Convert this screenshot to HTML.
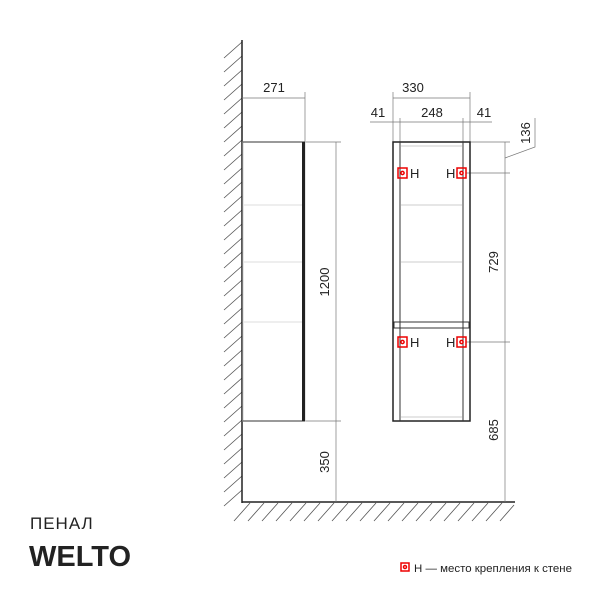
<!DOCTYPE html>
<html><head><meta charset="utf-8"><style>
html,body{margin:0;padding:0;background:#fff;width:600px;height:600px;overflow:hidden}
svg{display:block}
text{font-family:"Liberation Sans",sans-serif;fill:#222}
</style></head><body>
<svg width="600" height="600" viewBox="0 0 600 600">
<g stroke="#555" stroke-width="0.8" id="hatch"></g>
<g stroke="#555" stroke-width="0.8">
<line x1="242" y1="42" x2="224" y2="58"/><line x1="242" y1="56" x2="224" y2="72"/><line x1="242" y1="70" x2="224" y2="86"/><line x1="242" y1="84" x2="224" y2="100"/><line x1="242" y1="98" x2="224" y2="114"/><line x1="242" y1="112" x2="224" y2="128"/><line x1="242" y1="126" x2="224" y2="142"/><line x1="242" y1="140" x2="224" y2="156"/><line x1="242" y1="154" x2="224" y2="170"/><line x1="242" y1="168" x2="224" y2="184"/><line x1="242" y1="182" x2="224" y2="198"/><line x1="242" y1="196" x2="224" y2="212"/><line x1="242" y1="210" x2="224" y2="226"/><line x1="242" y1="224" x2="224" y2="240"/><line x1="242" y1="238" x2="224" y2="254"/><line x1="242" y1="252" x2="224" y2="268"/><line x1="242" y1="266" x2="224" y2="282"/><line x1="242" y1="280" x2="224" y2="296"/><line x1="242" y1="294" x2="224" y2="310"/><line x1="242" y1="308" x2="224" y2="324"/><line x1="242" y1="322" x2="224" y2="338"/><line x1="242" y1="336" x2="224" y2="352"/><line x1="242" y1="350" x2="224" y2="366"/><line x1="242" y1="364" x2="224" y2="380"/><line x1="242" y1="378" x2="224" y2="394"/><line x1="242" y1="392" x2="224" y2="408"/><line x1="242" y1="406" x2="224" y2="422"/><line x1="242" y1="420" x2="224" y2="436"/><line x1="242" y1="434" x2="224" y2="450"/><line x1="242" y1="448" x2="224" y2="464"/><line x1="242" y1="462" x2="224" y2="478"/><line x1="242" y1="476" x2="224" y2="492"/><line x1="242" y1="490" x2="224" y2="506"/>
<line x1="250" y1="503" x2="234" y2="521"/><line x1="264" y1="503" x2="248" y2="521"/><line x1="278" y1="503" x2="262" y2="521"/><line x1="292" y1="503" x2="276" y2="521"/><line x1="306" y1="503" x2="290" y2="521"/><line x1="320" y1="503" x2="304" y2="521"/><line x1="334" y1="503" x2="318" y2="521"/><line x1="348" y1="503" x2="332" y2="521"/><line x1="362" y1="503" x2="346" y2="521"/><line x1="376" y1="503" x2="360" y2="521"/><line x1="390" y1="503" x2="374" y2="521"/><line x1="404" y1="503" x2="388" y2="521"/><line x1="418" y1="503" x2="402" y2="521"/><line x1="432" y1="503" x2="416" y2="521"/><line x1="446" y1="503" x2="430" y2="521"/><line x1="460" y1="503" x2="444" y2="521"/><line x1="474" y1="503" x2="458" y2="521"/><line x1="488" y1="503" x2="472" y2="521"/><line x1="502" y1="503" x2="486" y2="521"/><line x1="514" y1="505" x2="500" y2="521"/>
</g>
<line x1="242" y1="40" x2="242" y2="503" stroke="#222" stroke-width="1.5"/>
<line x1="242" y1="502" x2="515" y2="502" stroke="#222" stroke-width="1.5"/>
<g stroke="#777" stroke-width="0.7" fill="none">
<line x1="242" y1="98" x2="305" y2="98"/>
<line x1="305" y1="92" x2="305" y2="142"/>
<line x1="305" y1="142" x2="341" y2="142"/>
<line x1="305" y1="421" x2="341" y2="421"/>
<line x1="336" y1="142" x2="336" y2="502"/>
<line x1="393" y1="98" x2="470" y2="98"/>
<line x1="393" y1="92" x2="393" y2="142"/>
<line x1="470" y1="92" x2="470" y2="142"/>
<line x1="370" y1="122" x2="492" y2="122"/>
<line x1="400" y1="118" x2="400" y2="173"/>
<line x1="463" y1="118" x2="463" y2="173"/>
<line x1="470" y1="142" x2="510" y2="142"/>
<line x1="466" y1="173" x2="510" y2="173"/>
<line x1="466" y1="342" x2="510" y2="342"/>
<line x1="505" y1="142" x2="505" y2="502"/>
<polyline points="505,158 535,147 535,118"/>
</g>
<rect x="243" y="142" width="62" height="279" fill="none" stroke="#ccc" stroke-width="1"/>
<line x1="243" y1="142" x2="305" y2="142" stroke="#333"/>
<line x1="243" y1="421" x2="305" y2="421" stroke="#333"/>
<line x1="303.5" y1="142" x2="303.5" y2="421" stroke="#222" stroke-width="3"/>
<g stroke="#ddd"><line x1="244" y1="205" x2="302" y2="205"/><line x1="244" y1="262" x2="302" y2="262"/><line x1="244" y1="322" x2="302" y2="322"/></g>
<rect x="393" y="142" width="77" height="279" fill="none" stroke="#222" stroke-width="1.5"/>
<line x1="400" y1="142" x2="400" y2="421" stroke="#333"/>
<line x1="463" y1="142" x2="463" y2="421" stroke="#333"/>
<g stroke="#ccc"><line x1="401" y1="146" x2="462" y2="146"/><line x1="401" y1="205" x2="462" y2="205"/><line x1="401" y1="262" x2="462" y2="262"/><line x1="401" y1="417" x2="462" y2="417"/></g>
<rect x="394" y="322" width="75" height="6" fill="none" stroke="#333"/>
<g fill="none" stroke="#e00" stroke-width="1.5">
<rect x="398" y="168" width="9" height="10"/><circle cx="402.5" cy="173" r="1.6"/>
<rect x="457" y="168" width="9" height="10"/><circle cx="461.5" cy="173" r="1.6"/>
<rect x="398" y="337" width="9" height="10"/><circle cx="402.5" cy="342" r="1.6"/>
<rect x="457" y="337" width="9" height="10"/><circle cx="461.5" cy="342" r="1.6"/>
<rect x="401" y="563" width="8" height="8"/><circle cx="405" cy="567" r="1.5"/>
</g>
<g font-size="13">
<text x="410" y="178">H</text><text x="446" y="178">H</text>
<text x="410" y="347">H</text><text x="446" y="347">H</text>
<text x="274" y="92" text-anchor="middle">271</text>
<text x="413" y="92" text-anchor="middle">330</text>
<text x="378" y="117" text-anchor="middle">41</text>
<text x="432" y="117" text-anchor="middle">248</text>
<text x="484" y="117" text-anchor="middle">41</text>
<text transform="translate(329,282) rotate(-90)" text-anchor="middle">1200</text>
<text transform="translate(329,462) rotate(-90)" text-anchor="middle">350</text>
<text transform="translate(498,262) rotate(-90)" text-anchor="middle">729</text>
<text transform="translate(498,430) rotate(-90)" text-anchor="middle">685</text>
<text transform="translate(530,133) rotate(-90)" text-anchor="middle">136</text>
</g>
<text x="414" y="572" font-size="11" textLength="158" lengthAdjust="spacingAndGlyphs">H — место крепления к стене</text>
<text x="30" y="529" font-size="17" style="letter-spacing:1px">ПЕНАЛ</text>
<text x="29" y="566" font-size="29" font-weight="bold">WELTO</text>
</svg>
</body></html>
